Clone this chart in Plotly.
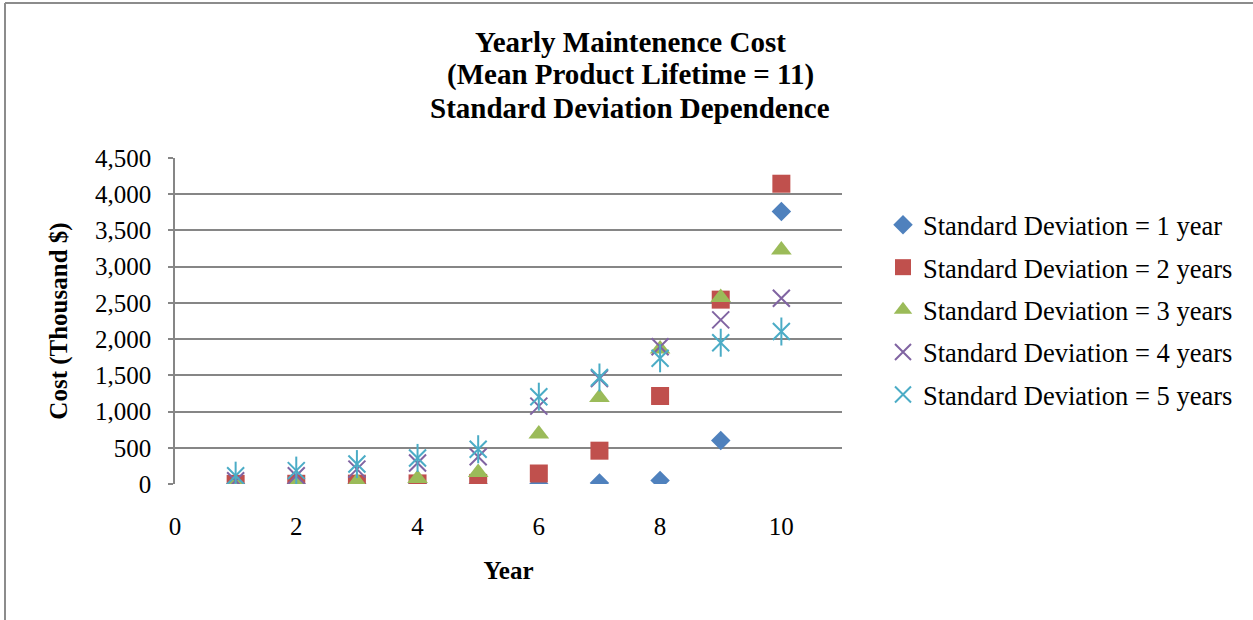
import plotly.graph_objects as go

# Yearly maintenance cost (thousand $) by year, one series per standard deviation
years = [1, 2, 3, 4, 5, 6, 7, 8, 9, 10]
sd_1_year = [0, 0, 0, 0, 0, 0, 15, 50, 600, 3760]
sd_2_years = [2, 3, 5, 8, 15, 145, 460, 1215, 2545, 4145]
sd_3_years = [0, 5, 30, 75, 160, 690, 1195, 1865, 2575, 3230]
sd_4_years = [45, 115, 205, 290, 375, 1075, 1455, 1895, 2265, 2565]
sd_5_years = [115, 185, 275, 360, 480, 1205, 1470, 1735, 1950, 2105]

series_names = [
    "Standard Deviation = 1 year",
    "Standard Deviation = 2 years",
    "Standard Deviation = 3 years",
    "Standard Deviation = 4 years",
    "Standard Deviation = 5 years",
]

title_lines = [
    "Yearly Maintenence Cost",
    "(Mean Product Lifetime = 11)",
    "Standard Deviation Dependence",
]

FONT = "Liberation Serif, Times New Roman, serif"
GRID = "#868686"

fig = go.Figure()

styles = [
    (sd_1_year, "diamond", 15, "#4F81BD", 0),
    (sd_2_years, "square", 18, "#C0504D", 0),
    (sd_3_years, "triangle-up", 18, "#9BBB59", 0),
    (sd_4_years, "x-thin-open", 17, "#8064A2", 2),
    (sd_5_years, "x-thin-open", 17, "#4BACC6", 2),
]

for i, (vals, sym, size, color, lw) in enumerate(styles):
    marker = dict(symbol=sym, size=size, color=color)
    if lw:
        marker["line"] = dict(color=color, width=lw)
    else:
        marker["line"] = dict(width=0)
    fig.add_trace(go.Scatter(
        x=years, y=vals, mode="markers", name=series_names[i],
        legendgroup=f"g{i}", marker=marker,
    ))

# vertical stroke that completes the star marker of the last series
fig.add_trace(go.Scatter(
    x=years, y=sd_5_years, mode="markers", legendgroup="g4", showlegend=False,
    marker=dict(symbol="line-ns-open", size=20, color="#4BACC6",
                line=dict(color="#4BACC6", width=2)),
    hoverinfo="skip",
))

L, R, T, B = 175, 411, 158, 136
W, H = 1253, 620
pw, ph = W - L - R, H - T - B

def px_x(p):
    return (p - L) / pw

def px_y(p):
    return (H - B - p) / ph

# three-line bold title, spaced tighter than a single multi-line string
annotations = [
    dict(text=f"<b>{line}</b>", xref="paper", yref="paper",
         x=px_x(630), y=px_y(yc), xanchor="center", yanchor="middle",
         showarrow=False, font=dict(family=FONT, size=29, color="black"))
    for line, yc in zip(title_lines, [42, 75, 108])
]

fig.update_layout(
    width=W, height=H,
    margin=dict(l=L, r=R, t=T, b=B),
    paper_bgcolor="white", plot_bgcolor="white",
    font=dict(family=FONT, size=25, color="black"),
    annotations=annotations,
    xaxis=dict(
        range=[0, 11], dtick=2, tick0=0,
        showgrid=False, zeroline=False, showline=False,
        ticks="", ticklabelstandoff=25,
        tickfont=dict(family=FONT, size=25),
        title=dict(text="<b>Year</b>", font=dict(family=FONT, size=25), standoff=22),
    ),
    yaxis=dict(
        range=[0, 4500], dtick=500, tick0=0, tickformat=",",
        showgrid=True, gridcolor=GRID, gridwidth=1.5,
        zeroline=False, showline=True, linecolor=GRID, linewidth=1.5,
        ticks="outside", ticklen=5, tickcolor=GRID, tickwidth=1.5,
        ticklabelstandoff=12,
        tickfont=dict(family=FONT, size=25),
        title=dict(text="<b>Cost (Thousand $)</b>", font=dict(family=FONT, size=25), standoff=20),
    ),
    legend=dict(
        x=px_x(883), xanchor="left", y=px_y(201), yanchor="top",
        font=dict(family=FONT, size=26.5),
        traceorder="grouped", tracegroupgap=5,
        bgcolor="rgba(0,0,0,0)", itemwidth=30,
    ),
    shapes=[
        dict(type="line", xref="paper", yref="paper",
             x0=px_x(5), x1=px_x(W + 5), y0=px_y(3), y1=px_y(3),
             line=dict(color="#8c8c8c", width=2)),
        dict(type="line", xref="paper", yref="paper",
             x0=px_x(5), x1=px_x(5), y0=px_y(3), y1=px_y(H + 5),
             line=dict(color="#8c8c8c", width=2)),
    ],
    showlegend=True,
)

fig.write_html("out.html")
